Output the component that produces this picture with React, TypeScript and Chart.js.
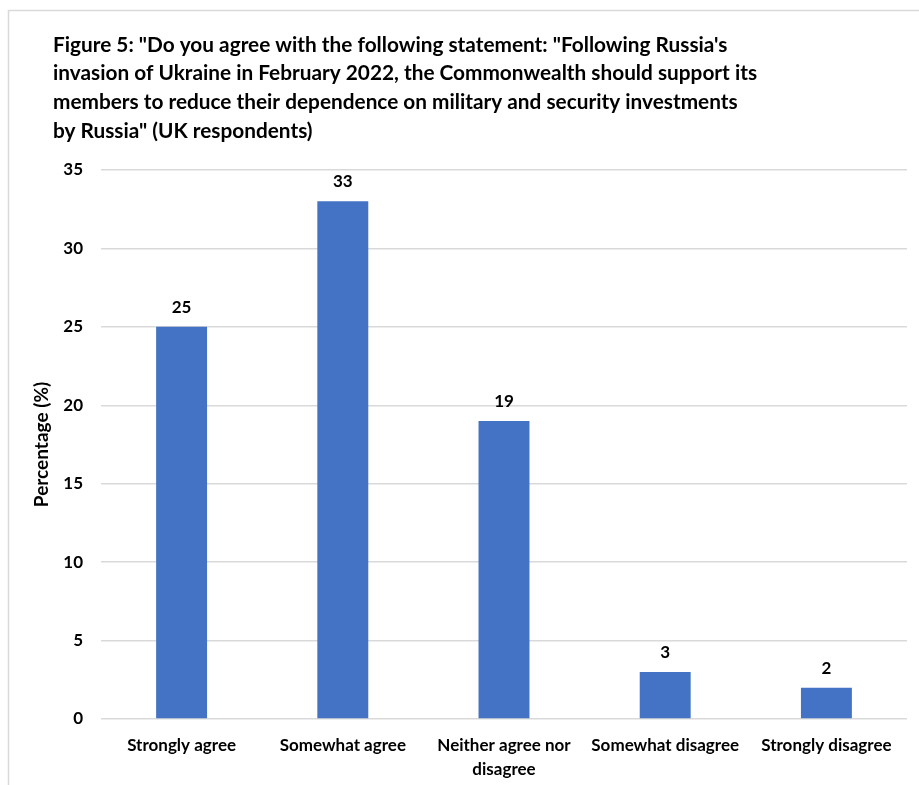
import React, { useEffect, useRef } from "react";
import { Chart, registerables } from "chart.js";

Chart.register(...registerables);

const titleLines = [
  "Figure 5: \"Do you agree with the following statement: \"Following Russia's",
  "invasion of Ukraine in February 2022, the Commonwealth should support its",
  "members to reduce their dependence on military and security investments",
  "by Russia\" (UK respondents)",
];
const categories: (string | string[])[] = [
  "Strongly agree",
  "Somewhat agree",
  ["Neither agree nor", "disagree"],
  "Somewhat disagree",
  "Strongly disagree",
];
const values = [25, 33, 19, 3, 2];
const yTicks = { min: 0, max: 35, step: 5 };
const yTitle = "Percentage (%)";

const FONT = "Lato";
const BAR = "#4472C4";
const GRID = "#d9d9d9";

const framePlugin = {
  id: "frame",
  beforeDraw(chart: any) {
    const ctx = chart.ctx;
    ctx.save();
    ctx.fillStyle = "#fff";
    ctx.fillRect(0, 0, chart.width, chart.height);
    ctx.strokeStyle = GRID;
    ctx.lineWidth = 1.5;
    ctx.strokeRect(8.5, 10.5, chart.width + 20, chart.height + 20);
    ctx.restore();
  },
  afterDraw(chart: any) {
    const ctx = chart.ctx;
    ctx.save();
    ctx.fillStyle = "#000";
    ctx.font = `bold 20.8px ${FONT}`;
    ctx.textBaseline = "middle";
    ctx.textAlign = "left";
    titleLines.forEach((line, i) => {
      ctx.fillText(line, 53, 45 + i * 28.7);
    });
    ctx.restore();
  },
};

const labelPlugin = {
  id: "barLabels",
  afterDatasetsDraw(chart: any) {
    const ctx = chart.ctx;
    const meta = chart.getDatasetMeta(0);
    ctx.save();
    ctx.fillStyle = "#000";
    ctx.font = `bold 17px ${FONT}`;
    ctx.textAlign = "center";
    ctx.textBaseline = "alphabetic";
    meta.data.forEach((el: any, i: number) => {
      ctx.fillText(String(chart.data.datasets[0].data[i]), el.x, el.y - 14);
    });
    ctx.restore();
  },
};

export default function App() {
  const ref = useRef<HTMLCanvasElement>(null);
  useEffect(() => {
    if (!ref.current) return;
    const chart = new Chart(ref.current, {
      type: "bar",
      data: {
        labels: categories,
        datasets: [
          {
            data: values,
            backgroundColor: BAR,
            borderWidth: 0,
            barPercentage: 0.316,
            categoryPercentage: 1,
          },
        ],
      },
      options: {
        responsive: false,
        animation: false,
        layout: { padding: { top: 170, left: 8, right: 12, bottom: 0 } },
        plugins: {
          legend: { display: false },
          tooltip: { enabled: false },
          title: { display: false },
        },
        scales: {
          x: {
            grid: { display: false },
            border: { display: false },
            ticks: {
              color: "#000",
              font: { family: FONT, weight: "bold", size: 17, lineHeight: 1.4 },
              padding: 7,
              maxRotation: 0,
              autoSkip: false,
            },
            afterFit(scale: any) {
              scale.height = 66;
            },
          },
          y: {
            min: yTicks.min,
            max: yTicks.max,
            grid: { color: GRID, lineWidth: 1.5, drawTicks: false },
            border: { display: false },
            ticks: {
              stepSize: yTicks.step,
              color: "#000",
              font: { family: FONT, weight: "bold", size: 17 },
              padding: 18,
            },
            title: {
              display: true,
              text: yTitle,
              color: "#000",
              font: { family: FONT, weight: "bold", size: 19 },
              padding: { top: 22, bottom: 0 },
            },
            afterFit(scale: any) {
              scale.width = 93;
            },
          },
        },
      },
      plugins: [framePlugin, labelPlugin],
    });
    return () => chart.destroy();
  }, []);
  return (
    <div style={{ position: "absolute", left: 0, top: 0, width: 919, height: 785 }}>
      <canvas ref={ref} width={919} height={785} />
    </div>
  );
}
